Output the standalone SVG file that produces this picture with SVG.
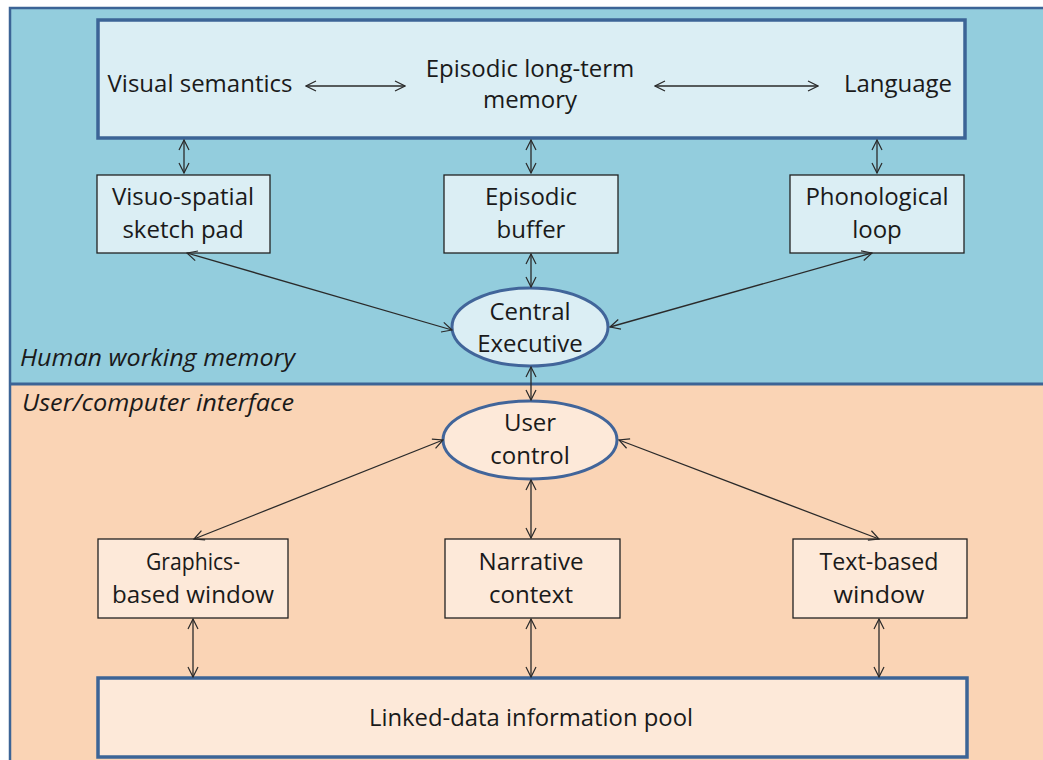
<svg xmlns="http://www.w3.org/2000/svg" width="1043" height="760" viewBox="0 0 1043 760">
<defs>
<marker id="ah" viewBox="0 0 12 12" refX="11" refY="6" markerWidth="12" markerHeight="12" markerUnits="userSpaceOnUse" orient="auto-start-reverse">
<path d="M1,1 L11,6 L1,11" fill="none" stroke="#2a2a2a" stroke-width="1.2"/>
</marker>
<style>
.t{font-family:"Open Sans","Liberation Sans",sans-serif;font-size:24px;fill:#1a1a1a;text-anchor:middle}
.n{font-family:"Open Sans","Liberation Sans",sans-serif;font-size:24px;fill:#1a1a1a;text-anchor:middle}
.lab{font-family:"Open Sans","Liberation Sans",sans-serif;font-size:23px;font-style:italic;fill:#1a1a1a}
.bt{fill:#DBEEF4;stroke:#222;stroke-width:1.3}
.bb{fill:#FDE9D9;stroke:#222;stroke-width:1.3}
.c line{stroke:#2a2a2a;stroke-width:1.3;marker-start:url(#ah);marker-end:url(#ah)}
</style>
</defs>
<rect x="0" y="0" width="1043" height="760" fill="#fff"/>
<g id="human-working-memory">
<rect x="10" y="8" width="1040" height="376" fill="#93CDDD"/>
</g>
<g id="user-computer-interface">
<rect x="10" y="384" width="1040" height="380" fill="#FAD4B5"/>
</g>
<path d="M10,762 L10,8 L1045,8" fill="none" stroke="#3C6496" stroke-width="2.5"/>
<line x1="10" y1="384" x2="1045" y2="384" stroke="#3C6496" stroke-width="3"/>
<text class="lab" x="20" y="366" textLength="275" lengthAdjust="spacingAndGlyphs">Human working memory</text>
<text class="lab" x="22" y="411" textLength="272" lengthAdjust="spacingAndGlyphs">User/computer interface</text>

<g id="episodic-long-term-memory">
<rect x="98" y="20" width="867" height="118" fill="#DBEEF4" stroke="#3C6496" stroke-width="3.5"/>
<text class="t" x="530" y="77">Episodic long-term</text>
<text class="t" x="530" y="108">memory</text>
</g>
<g id="visual-semantics"><text class="t" x="200" y="92">Visual semantics</text></g>
<g id="language"><text class="t" x="898" y="92">Language</text></g>

<g id="visuo-spatial"><rect class="bt" x="97" y="175" width="173" height="78"/>
<text class="t" x="183" y="205">Visuo-spatial</text><text class="t" x="183" y="238">sketch pad</text></g>
<g id="episodic-buffer"><rect class="bt" x="444" y="175" width="174" height="78"/>
<text class="t" x="531" y="205">Episodic</text><text class="t" x="531" y="238">buffer</text></g>
<g id="phonological-loop"><rect class="bt" x="790" y="175" width="174" height="78"/>
<text class="t" x="877" y="205">Phonological</text><text class="t" x="877" y="238">loop</text></g>

<g id="central-executive"><ellipse cx="530" cy="327" rx="78" ry="39" fill="#DBEEF4" stroke="#41659A" stroke-width="3"/>
<text class="t" x="530" y="320">Central</text><text class="t" x="530" y="352">Executive</text></g>

<g id="user-control"><ellipse cx="530" cy="440" rx="87" ry="39" fill="#FDE9D9" stroke="#41659A" stroke-width="3"/>
<text class="t" x="530" y="431">User</text><text class="t" x="530" y="464">control</text></g>

<g id="graphics-window"><rect class="bb" x="98" y="539" width="190" height="79"/>
<text class="n" x="193" y="570" textLength="94" lengthAdjust="spacingAndGlyphs">Graphics-</text><text class="n" x="193" y="603" textLength="162" lengthAdjust="spacingAndGlyphs">based window</text></g>
<g id="narrative-context"><rect class="bb" x="445" y="539" width="175" height="79"/>
<text class="n" x="531" y="570" textLength="105" lengthAdjust="spacingAndGlyphs">Narrative</text><text class="n" x="531" y="603" textLength="84" lengthAdjust="spacingAndGlyphs">context</text></g>
<g id="text-window"><rect class="bb" x="793" y="539" width="174" height="79"/>
<text class="n" x="879" y="570" textLength="119" lengthAdjust="spacingAndGlyphs">Text-based</text><text class="n" x="879" y="603" textLength="91" lengthAdjust="spacingAndGlyphs">window</text></g>

<g id="linked-data-pool"><rect x="98" y="678" width="869" height="79" fill="#FDE9D9" stroke="#3C6496" stroke-width="3.5"/>
<text class="n" x="531" y="726" textLength="324" lengthAdjust="spacingAndGlyphs">Linked-data information pool</text></g>

<g id="connectors" class="c">
<line x1="306" y1="86" x2="405" y2="86"/>
<line x1="655" y1="86" x2="818" y2="86"/>
<line x1="184" y1="140" x2="184" y2="173"/>
<line x1="531" y1="140" x2="531" y2="173"/>
<line x1="877" y1="140" x2="877" y2="173"/>
<line x1="187" y1="253" x2="452" y2="330"/>
<line x1="531" y1="254" x2="531" y2="287"/>
<line x1="872" y1="253" x2="610" y2="327"/>
<line x1="531" y1="367" x2="531" y2="400"/>
<line x1="443" y1="440" x2="194" y2="539"/>
<line x1="531" y1="480" x2="531" y2="538"/>
<line x1="619" y1="440" x2="879" y2="539"/>
<line x1="193" y1="619" x2="193" y2="677"/>
<line x1="531" y1="619" x2="531" y2="677"/>
<line x1="879" y1="619" x2="879" y2="677"/>
</g>
</svg>
